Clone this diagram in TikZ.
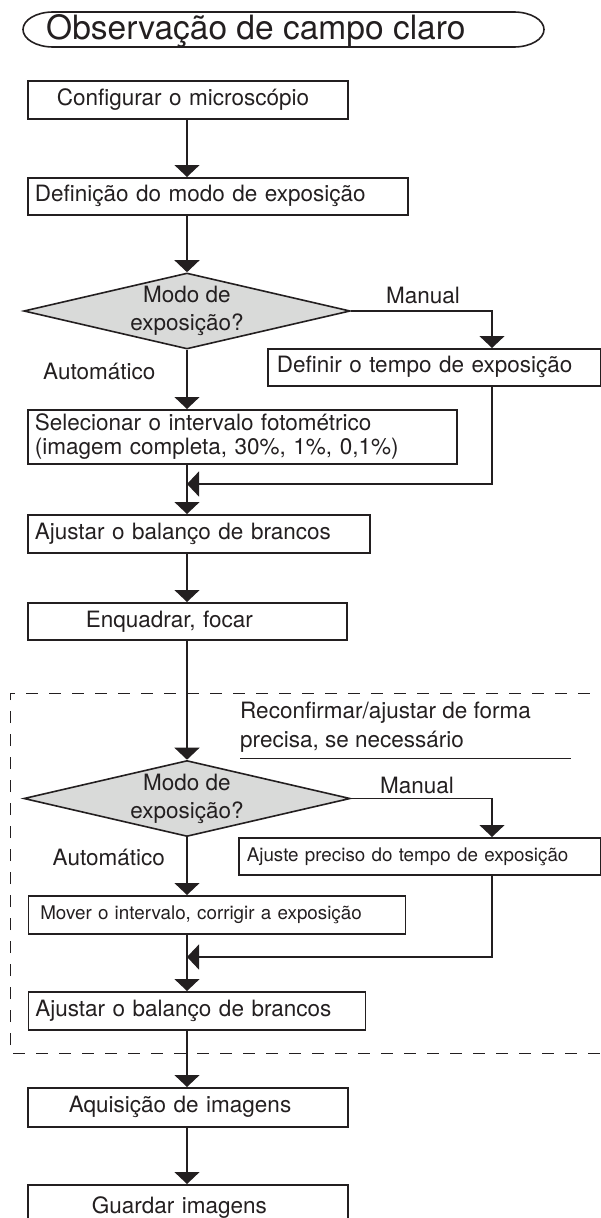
\documentclass[tikz,border=0pt]{standalone}
\usepackage{fontspec}
\setmainfont{TeX Gyre Heros}
\usetikzlibrary{shapes.geometric,arrows.meta}

\definecolor{ink}{RGB}{35,31,32}
\definecolor{decision}{RGB}{217,218,217}

\tikzset{
	box/.style={draw=ink, line width=1.6pt, anchor=north west, minimum height=37.5pt, align=left, inner ysep=0pt, font=\fontsize{22.5}{27}\selectfont},
	smalltext/.style={font=\fontsize{18.8}{22}\selectfont},
	choice/.style={diamond, draw=ink, fill=decision, line width=1.6pt, aspect=4.3, inner sep=0pt, minimum width=326pt, minimum height=76pt, align=center, font=\fontsize{22.5}{28}\selectfont},
	branch/.style={anchor=west, inner sep=0pt, font=\fontsize{22.5}{27}\selectfont},
	flow/.style={draw=ink, line width=1.4pt, -{Triangle[width=25pt,length=12pt]}},
	dashframe/.style={draw=ink, line width=0.9pt, dash pattern=on 12pt off 11pt},
}

\begin{document}
\begin{tikzpicture}[x=1pt, y=-1pt, every node/.append style={text=ink}]
	\useasboundingbox (0,0) rectangle (601,1218);
	
	% Title
	\node[anchor=base west, inner sep=0pt, font=\fontsize{33.5}{40}\selectfont] (title) at (46,39) {Observação de campo claro};
	\draw[draw=ink, line width=1.6pt] (53,12) -- (514,12) arc[start angle=90, end angle=-90, x radius=30pt, y radius=17.5pt] -- (53,47) arc[start angle=270, end angle=90, x radius=30pt, y radius=17.5pt] -- cycle;
	
	% Guide columns
	\coordinate (spine) at (187,0);
	\coordinate (rside) at (492,0);
	
	% Dashed frame of the fine adjustment
	\draw[dashframe] (10,1045) -- (10,693) -- (605,693);
	\draw[dashframe] (13,1053) -- (605,1053);
	
	% Steps
	\node[box, minimum height=38pt, inner xsep=29pt, text width=262pt] (cfg) at (27,80) {Configurar o microscópio};
	\node[box, minimum height=37pt, inner xsep=7pt, text width=366pt] (def) at (27,177) {Definição do modo de exposição};
	\node[choice] (dia1) at (187,311) {Modo de\\exposição?};
	\node[branch] (man1) at (386,295) {Manual};
	\node[branch] (auto1) at (43,371) {Automático};
	\node[box, minimum height=37pt, inner xsep=9pt, text width=315pt] (tempo) at (267,348) {Definir o tempo de exposição};
	\node[box, minimum height=54pt, inner xsep=7pt, text width=415pt, font=\fontsize{22.5}{24}\selectfont] (sel) at (27,409) {Selecionar o intervalo fotométrico\\(imagem completa, 30\%, 1\%, 0,1\%)};
	\coordinate (join1) at (187,484);
	\node[box, minimum height=38pt, inner xsep=7pt, text width=328pt] (wb1) at (27,514) {Ajustar o balanço de brancos};
	\node[box, minimum height=37pt, inner xsep=58pt, text width=203pt] (focus) at (27,602) {Enquadrar, focar};
	
	% Fine adjustment
	\node[branch, align=left, font=\fontsize{22.5}{29}\selectfont] (note) at (240,727.5) {Reconfirmar/ajustar de forma\\precisa, se necessário};
	\draw[draw=ink, line width=0.9pt] (240,758) -- (571,758);
	\node[choice] (dia2) at (187,798.5) {Modo de\\exposição?};
	\node[branch] (man2) at (380,785) {Manual};
	\node[branch] (auto2) at (52.5,857) {Automático};
	\node[box, smalltext, minimum height=37pt, inner xsep=8pt, text width=346pt] (fine) at (238,837) {Ajuste preciso do tempo de exposição};
	\node[box, smalltext, minimum height=38pt, inner xsep=12pt, text width=353pt] (move) at (27.5,895) {Mover o intervalo, corrigir a exposição};
	\coordinate (join2) at (187,957);
	\node[box, minimum height=38pt, inner xsep=7pt, text width=323pt] (wb2) at (27.5,991) {Ajustar o balanço de brancos};
	
	% Acquisition
	\node[box, minimum height=39pt, inner xsep=41pt, text width=238pt] (acq) at (27,1087) {Aquisição de imagens};
	\node[box, minimum height=46pt, inner xsep=64pt, text width=192pt] (save) at (27,1184) {Guardar imagens};
	
	% Connectors
	\draw[flow] (cfg.south -| spine) -- (def.north -| spine);
	\draw[flow] (def.south -| spine) -- (dia1.north);
	\draw[flow] (dia1.east) -| (tempo.north -| rside);
	\draw[flow] (dia1.south) -- (sel.north -| spine);
	\draw[flow] (tempo.south -| rside) |- (join1);
	\draw[flow] (sel.south -| spine) -- (wb1.north -| spine);
	\draw[flow] (wb1.south -| spine) -- (focus.north -| spine);
	\draw[flow] (focus.south -| spine) -- (dia2.north);
	\draw[flow] (dia2.east) -| (fine.north -| rside);
	\draw[flow] (dia2.south) -- (move.north -| spine);
	\draw[flow] (fine.south -| rside) |- (join2);
	\draw[flow] (move.south -| spine) -- (wb2.north -| spine);
	\draw[flow] (wb2.south -| spine) -- (acq.north -| spine);
	\draw[flow] (acq.south -| spine) -- (save.north -| spine);
	
\end{tikzpicture}
\end{document}
